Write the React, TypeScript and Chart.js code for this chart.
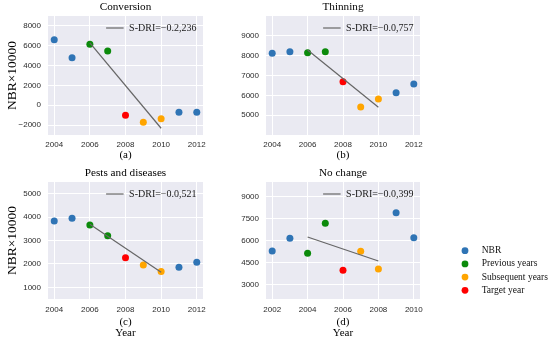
import React, { useEffect, useRef } from 'react';
import { Chart, registerables } from 'chart.js';

Chart.register(...registerables);

// ---------- data ----------
const yearsMain = [2004, 2005, 2006, 2007, 2008, 2009, 2010, 2011, 2012];
const yearsNoChange = [2002, 2003, 2004, 2005, 2006, 2007, 2008, 2009, 2010];
const pointGroups = [
  'NBR', 'NBR', 'Previous years', 'Previous years', 'Target year',
  'Subsequent years', 'Subsequent years', 'NBR', 'NBR',
];
const seriesNames = ['NBR', 'Previous years', 'Subsequent years', 'Target year'];
const seriesColors = ['#2f74b5', '#0b8a0b', '#ffa500', '#ff0000'];

const conversionNBR = [6600, 4800, 6150, 5470, -1000, -1720, -1350, -710, -710];
const thinningNBR = [8120, 8200, 8150, 8200, 6690, 5410, 5820, 6130, 6570];
const pestsNBR = [3835, 3950, 3664, 3207, 2268, 1956, 1670, 1858, 2071];
const noChangeNBR = [5280, 6150, 5123, 7175, 3960, 5260, 4050, 7900, 6190];

const trendYearsMain = [2006, 2010];
const trendYearsNoChange = [2004, 2008];
const conversionTrend = [6300, -2320];
const thinningTrend = [8290, 5400];
const pestsTrend = [3690, 1640];
const noChangeTrend = [6240, 4600];

const panelTitles = ['Conversion', 'Thinning', 'Pests and diseases', 'No change'];
const panelLetters = ['(a)', '(b)', '(c)', '(d)'];
const sdriLabels = ['S-DRI=−0.2,236', 'S-DRI=−0.0,757', 'S-DRI=−0.0,521', 'S-DRI=−0.0,399'];
const yAxisLabel = 'NBR×10000';
const xAxisLabel = 'Year';

const conversionRange = [-3000, 9000];
const thinningRange = [4000, 10000];
const pestsRange = [500, 5500];
const noChangeRange = [2000, 10000];
const conversionTicks = [-2000, 0, 2000, 4000, 6000, 8000];
const thinningTicks = [5000, 6000, 7000, 8000, 9000];
const pestsTicks = [1000, 2000, 3000, 4000, 5000];
const noChangeTicks = [3000, 4500, 6000, 7500, 9000];
const xTicksMain = [2004, 2006, 2008, 2010, 2012];
const xTicksNoChange = [2002, 2004, 2006, 2008, 2010];
const xRangeMain = [2003.65, 2012.35];
const xRangeNoChange = [2001.65, 2010.35];

// ---------- styling ----------
const SERIF = "'Liberation Serif', 'Times New Roman', serif";
const SANS = "'Liberation Sans', Arial, sans-serif";
const BG = '#EAEAF2';
const TICK_COLOR = '#2b2b2b';

const fmt = (v: number) => (v < 0 ? '−' + Math.abs(v) : String(v));

const panelDecor = {
  id: 'panelDecor',
  beforeDraw(chart: any) {
    const { ctx, chartArea } = chart;
    if (!chartArea) return;
    ctx.save();
    ctx.fillStyle = BG;
    ctx.fillRect(chartArea.left, chartArea.top, chartArea.width, chartArea.height);
    ctx.restore();
  },
  afterDatasetsDraw(chart: any, _args: any, opts: any) {
    if (!opts || !opts.label) return;
    const { ctx, chartArea } = chart;
    ctx.save();
    ctx.font = `10px ${SERIF}`;
    const w = ctx.measureText(opts.label).width;
    const textRight = chartArea.right - 6.5;
    const textLeft = textRight - w;
    const y = chartArea.top + 12;
    ctx.strokeStyle = '#666666';
    ctx.lineWidth = 1.2;
    ctx.beginPath();
    ctx.moveTo(textLeft - 5.5 - 17.5, y);
    ctx.lineTo(textLeft - 5.5, y);
    ctx.stroke();
    ctx.fillStyle = '#1a1a1a';
    ctx.textBaseline = 'middle';
    ctx.textAlign = 'left';
    ctx.fillText(opts.label, textLeft, y);
    ctx.restore();
  },
};

// legend drawn from the chart's own datasets (labels + colours)
const sideLegend = {
  id: 'sideLegend',
  afterDraw(chart: any) {
    const { ctx } = chart;
    ctx.save();
    ctx.font = `9.5px ${SERIF}`;
    ctx.textBaseline = 'middle';
    ctx.textAlign = 'left';
    chart.data.datasets.forEach((ds: any, i: number) => {
      const y = 18.7 + i * 13.2;
      ctx.fillStyle = ds.backgroundColor;
      ctx.beginPath();
      ctx.arc(15, y, 3.4, 0, Math.PI * 2);
      ctx.fill();
      ctx.fillStyle = '#111111';
      ctx.fillText(ds.label, 31.7, y);
    });
    ctx.restore();
  },
};

type PanelDef = {
  idx: number;
  years: number[];
  values: number[];
  trendYears: number[];
  trend: number[];
  yRange: number[];
  yTicks: number[];
  xRange: number[];
  xTicks: number[];
  showYTitle: boolean;
  showYear: boolean;
  left: number;
  top: number;
  width: number;
  height: number;
  padRight: number;
  xAxisHeight: number;
  titlePad: { top: number; bottom: number };
  xTitlePadBottom: number;
  tickPad: number;
};

const topRow = { top: 0, height: 170, xAxisHeight: 35, titlePad: { top: 0.8, bottom: 1.76 }, xTitlePadBottom: 9.8, tickPad: 5.2, showYear: false };
const bottomRow = { top: 164, height: 178, xAxisHeight: 43, titlePad: { top: 1.9, bottom: 2.66 }, xTitlePadBottom: 4.1, tickPad: 6.2, showYear: true };
const leftCol = { left: 0, width: 230, padRight: 27, showYTitle: true };
const rightCol = { left: 218, width: 222, padRight: 20, showYTitle: false };

const panels: PanelDef[] = [
  { idx: 0, years: yearsMain, values: conversionNBR, trendYears: trendYearsMain, trend: conversionTrend, yRange: conversionRange, yTicks: conversionTicks, xRange: xRangeMain, xTicks: xTicksMain, ...topRow, ...leftCol },
  { idx: 1, years: yearsMain, values: thinningNBR, trendYears: trendYearsMain, trend: thinningTrend, yRange: thinningRange, yTicks: thinningTicks, xRange: xRangeMain, xTicks: xTicksMain, ...topRow, ...rightCol },
  { idx: 2, years: yearsMain, values: pestsNBR, trendYears: trendYearsMain, trend: pestsTrend, yRange: pestsRange, yTicks: pestsTicks, xRange: xRangeMain, xTicks: xTicksMain, ...bottomRow, ...leftCol },
  { idx: 3, years: yearsNoChange, values: noChangeNBR, trendYears: trendYearsNoChange, trend: noChangeTrend, yRange: noChangeRange, yTicks: noChangeTicks, xRange: xRangeNoChange, xTicks: xTicksNoChange, ...bottomRow, ...rightCol },
];

function PanelChart({ p }: { p: PanelDef }) {
  const ref = useRef<HTMLCanvasElement | null>(null);
  useEffect(() => {
    if (!ref.current) return;
    const datasets: any[] = [
      {
        label: sdriLabels[p.idx],
        data: p.trendYears.map((x, i) => ({ x, y: p.trend[i] })),
        showLine: true,
        borderColor: '#666666',
        borderWidth: 1.2,
        pointRadius: 0,
        pointHoverRadius: 0,
      },
      ...seriesNames.map((name, si) => ({
        label: name,
        data: p.years
          .map((x, i) => ({ x, y: p.values[i], g: pointGroups[i] }))
          .filter((d) => d.g === name)
          .map((d) => ({ x: d.x, y: d.y })),
        backgroundColor: seriesColors[si],
        borderWidth: 0,
        pointRadius: 3.5,
        pointHoverRadius: 3.5,
      })),
    ];
    const chart = new Chart(ref.current, {
      type: 'scatter',
      data: { datasets },
      plugins: [panelDecor],
      options: {
        animation: false,
        responsive: false,
        events: [],
        layout: { padding: { left: 0, top: 0, right: p.padRight, bottom: 0 } },
        plugins: {
          legend: { display: false },
          tooltip: { enabled: false },
          title: {
            display: true,
            text: panelTitles[p.idx],
            fullSize: false,
            color: '#000000',
            font: { family: SERIF, size: 11.2, weight: 'normal', lineHeight: 1.2 },
            padding: p.titlePad,
          },
          panelDecor: { label: sdriLabels[p.idx] },
        } as any,
        scales: {
          x: {
            type: 'linear',
            min: p.xRange[0],
            max: p.xRange[1],
            afterBuildTicks: (s: any) => {
              s.ticks = p.xTicks.map((v) => ({ value: v }));
            },
            afterFit: (s: any) => {
              s.height = p.xAxisHeight;
            },
            ticks: {
              autoSkip: false,
              maxRotation: 0,
              padding: p.tickPad,
              color: TICK_COLOR,
              font: { family: SANS, size: 8 },
              callback: (v: any) => fmt(Number(v)),
            },
            grid: { color: '#ffffff', lineWidth: 1, drawTicks: false },
            border: { display: false },
            title: {
              display: true,
              text: p.showYear ? [panelLetters[p.idx], xAxisLabel] : [panelLetters[p.idx]],
              color: '#000000',
              font: { family: SERIF, size: 11, lineHeight: '10.4px' },
              padding: { top: 0, bottom: p.xTitlePadBottom },
            },
          },
          y: {
            type: 'linear',
            min: p.yRange[0],
            max: p.yRange[1],
            afterBuildTicks: (s: any) => {
              s.ticks = p.yTicks.map((v) => ({ value: v }));
            },
            afterFit: (s: any) => {
              s.width = 48;
            },
            ticks: {
              autoSkip: false,
              padding: 7,
              color: TICK_COLOR,
              font: { family: SANS, size: 8 },
              callback: (v: any) => fmt(Number(v)),
            },
            grid: { color: '#ffffff', lineWidth: 1, drawTicks: false },
            border: { display: false },
            title: {
              display: p.showYTitle,
              text: yAxisLabel,
              color: '#000000',
              font: { family: SERIF, size: 13.5, lineHeight: 1 },
              padding: { top: 6, bottom: 0 },
            },
          },
        },
      } as any,
    });
    return () => chart.destroy();
  }, [p]);
  return (
    <canvas
      ref={ref}
      width={p.width}
      height={p.height}
      style={{ position: 'absolute', left: p.left, top: p.top, width: p.width, height: p.height, display: 'block' }}
    />
  );
}

function LegendChart() {
  const ref = useRef<HTMLCanvasElement | null>(null);
  useEffect(() => {
    if (!ref.current) return;
    const chart = new Chart(ref.current, {
      type: 'scatter',
      data: {
        datasets: seriesNames.map((name, si) => ({
          label: name,
          data: [],
          backgroundColor: seriesColors[si],
          borderWidth: 0,
        })),
      },
      plugins: [sideLegend],
      options: {
        animation: false,
        responsive: false,
        events: [],
        plugins: {
          legend: { display: false },
          tooltip: { enabled: false },
        },
        scales: { x: { display: false }, y: { display: false } },
      } as any,
    });
    return () => chart.destroy();
  }, []);
  return (
    <canvas
      ref={ref}
      width={100}
      height={90}
      style={{ position: 'absolute', left: 450, top: 232, width: 100, height: 90, display: 'block' }}
    />
  );
}

export default function App() {
  return (
    <div style={{ position: 'absolute', left: 0, top: 0, width: 550, height: 342, background: '#ffffff', overflow: 'hidden' }}>
      {panels.map((p) => (
        <PanelChart key={p.idx} p={p} />
      ))}
      <LegendChart />
    </div>
  );
}
